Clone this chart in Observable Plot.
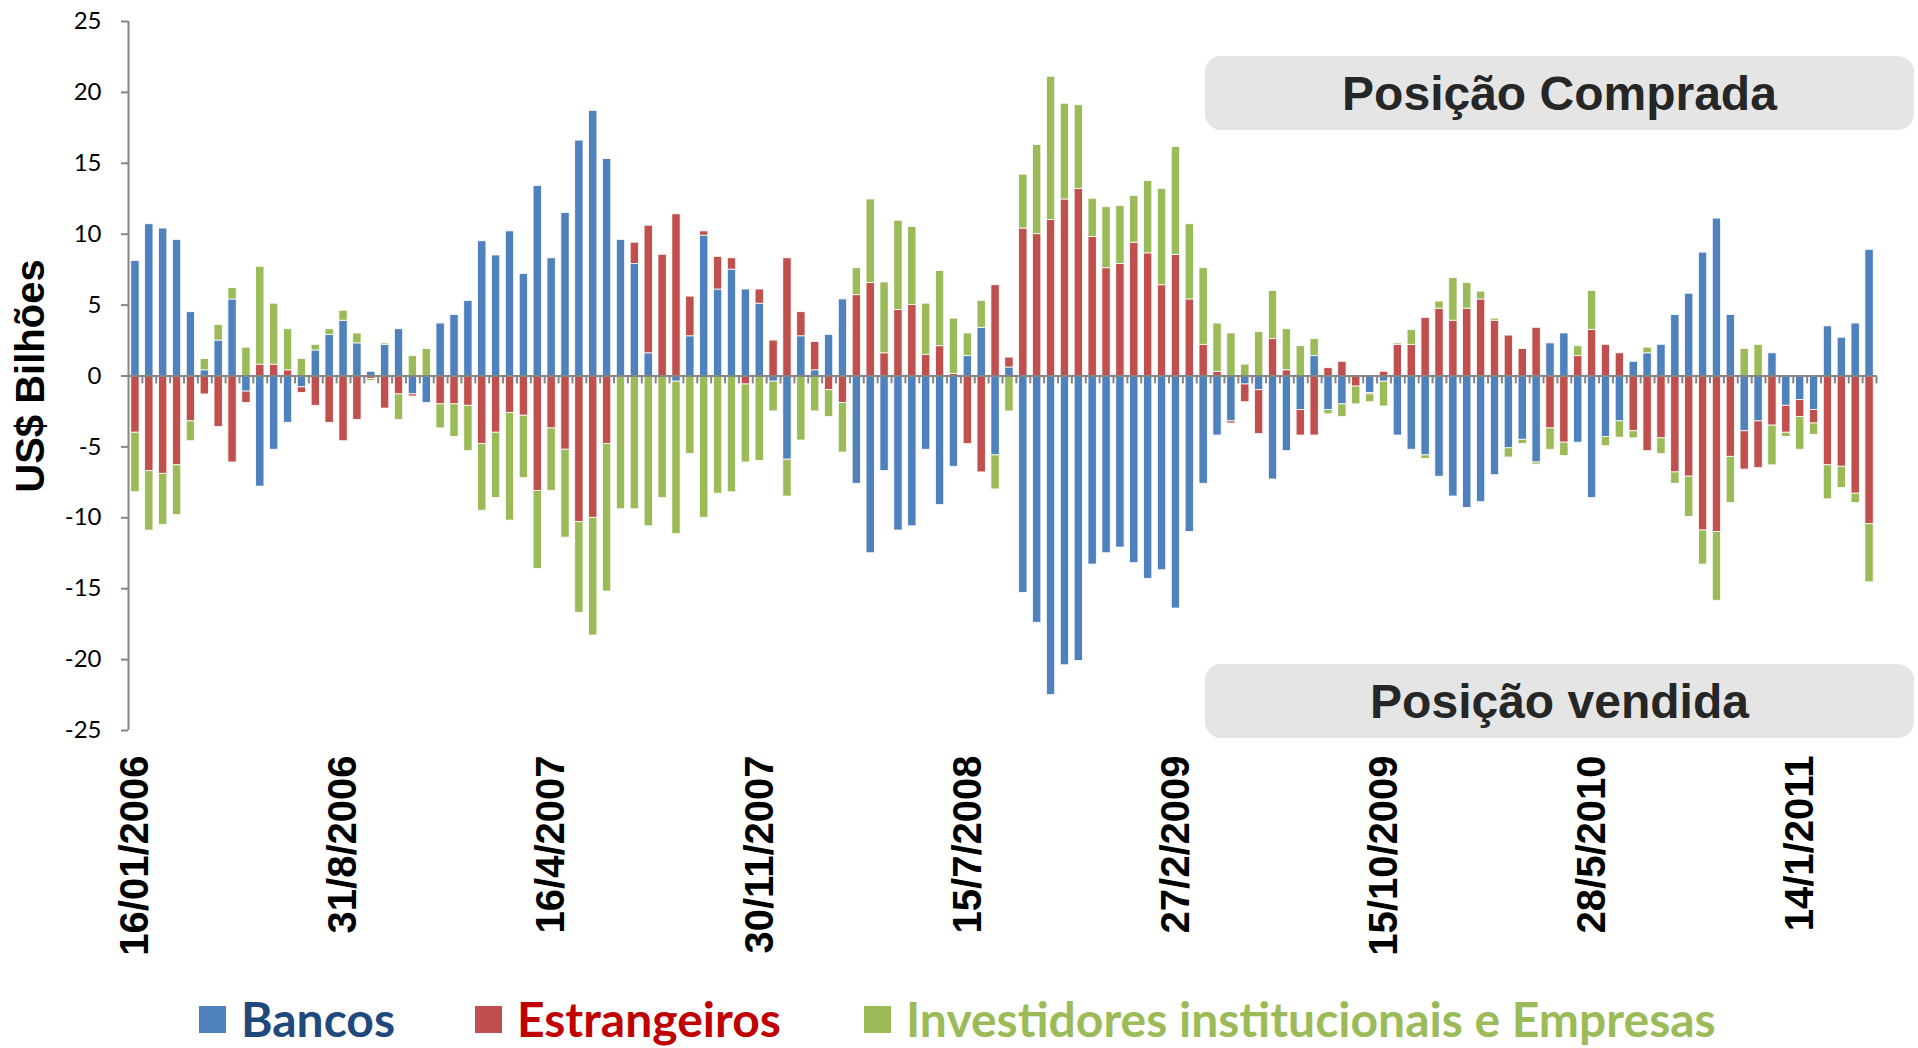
<!DOCTYPE html>
<html>
<head>
<meta charset="utf-8">
<script src="https://cdn.jsdelivr.net/npm/d3@7"></script>
<script src="https://cdn.jsdelivr.net/npm/@observablehq/plot@0.6"></script>
<style>
  body { margin: 0; background: #fff; }
  #wrap { position: relative; width: 1918px; height: 1048px; overflow: hidden; background: #fff; }
  #chart { position: absolute; left: 0; top: 0; }
  .box { position: absolute; left: 1205px; width: 709px; height: 74px; background: #e5e5e5; border-radius: 16px;
         display: flex; align-items: center; justify-content: center;
         font: bold 48px "Liberation Sans", Arial, sans-serif; color: #262626; }
  .leg { position: absolute; top: 994px; height: 50px; display: flex; align-items: center;
         font: bold 48px Lato, "Open Sans", sans-serif; line-height: 1; white-space: nowrap; }
  .leg .sw { width: 27px; height: 27px; margin-right: 15px; flex: none; }
  g[aria-label="x-axis tick label"] text { font-family: "Liberation Sans", Arial, sans-serif; font-weight: bold; fill: #000; }
  g[aria-label="y-axis tick label"] text { fill: #000; }
  g[aria-label="y-axis tick"] path { stroke: #868686; stroke-width: 2; }
</style>
</head>
<body>
<div id="wrap">
  <div id="chart"></div>
  <div class="box" style="top:56px">Posição Comprada</div>
  <div class="box" style="top:664px">Posição vendida</div>
  <div id="legend"></div>
</div>
<script>
// ---- data (US$ bilhões), semi-monthly observations ----
const seriesNames = ["Bancos", "Estrangeiros", "Investidores institucionais e Empresas"];
const seriesColors = ["#4F81BD", "#C0504D", "#9BBB59"];
const legendTextColors = ["#1F497D", "#C00000", "#9BBB59"];

const bancos = [
  8.1, 10.7, 10.4, 9.6, 4.5, 0.4, 2.5, 5.4, -1.1, -7.8,
  -5.2, -3.3, -0.8, 1.8, 2.9, 3.9, 2.3, 0.3, 2.2, 3.3,
  -1.3, -1.9, 3.7, 4.3, 5.3, 9.5, 8.5, 10.2, 7.2, 13.4,
  8.3, 11.5, 16.6, 18.7, 15.3, 9.6, 7.9, 1.6, 0, -0.4,
  2.8, 9.9, 6.1, 7.5, 6.1, 5.1, -0.4, -5.9, 2.8, 0.4,
  2.9, 5.4, -7.6, -12.5, -6.7, -10.9, -10.6, -5.2, -9.1, -6.4,
  1.4, 3.4, -5.6, 0.6, -15.3, -17.4, -22.5, -20.4, -20.1, -13.3,
  -12.5, -12.1, -13.2, -14.3, -13.7, -16.4, -11.0, -7.6, -4.2, -3.2,
  -0.6, -1.0, -7.3, -5.3, -2.4, 1.4, -2.4, -2.0, 0, -1.2,
  -0.4, -4.2, -5.2, -5.6, -7.1, -8.5, -9.3, -8.9, -7.0, -5.1,
  -4.5, -6.1, 2.3, 3.0, -4.7, -8.6, -4.3, -3.2, 1.0, 1.6,
  2.2, 4.3, 5.8, 8.7, 11.1, 4.3, -3.9, -3.2, 1.6, -2.1,
  -1.7, -2.4, 3.5, 2.7, 3.7, 8.9
];
const estrangeiros = [
  -4.0, -6.7, -6.9, -6.3, -3.2, -1.3, -3.6, -6.1, -0.8, 0.8,
  0.8, 0.4, -0.4, -2.1, -3.3, -4.6, -3.1, -0.2, -2.3, -1.3,
  -0.15, 0, -2.0, -2.0, -2.1, -4.8, -4.0, -2.6, -2.8, -8.1,
  -3.7, -5.2, -10.3, -10.0, -4.8, 0, 1.5, 9.0, 8.55, 11.4,
  2.8, 0.3, 2.3, 0.8, -0.6, 1.0, 2.5, 8.3, 1.7, 2.0,
  -1.0, -1.9, 5.7, 6.55, 1.6, 4.65, 5.0, 1.5, 2.1, 0.15,
  -4.8, -6.8, 6.4, 0.7, 10.4, 10.0, 11.0, 12.45, 13.2, 9.8,
  7.6, 7.9, 9.4, 8.65, 6.4, 8.55, 5.4, 2.2, 0.3, -0.15,
  -1.25, -3.1, 2.6, 0.4, -1.8, -4.2, 0.55, 1.0, -0.75, -0.1,
  0.3, 2.2, 2.2, 4.1, 4.75, 3.9, 4.75, 5.4, 3.9, 2.85,
  1.9, 3.4, -3.7, -4.7, 1.4, 3.25, 2.2, 1.6, -3.9, -5.3,
  -4.4, -6.8, -7.1, -10.9, -11.0, -5.7, -2.7, -3.3, -3.5, -1.9,
  -1.2, -0.95, -6.3, -6.4, -8.3, -10.45
];
const investidores = [
  -4.2, -4.2, -3.6, -3.5, -1.4, 0.8, 1.1, 0.8, 2.0, 6.9,
  4.3, 2.9, 1.2, 0.4, 0.4, 0.7, 0.7, -0.15, 0.1, -1.8,
  1.4, 1.9, -1.7, -2.3, -3.2, -4.7, -4.6, -7.6, -4.4, -5.5,
  -4.4, -6.2, -6.4, -8.3, -10.4, -9.4, -9.4, -10.6, -8.6, -10.75,
  -5.5, -10.0, -8.3, -8.2, -5.5, -6.0, -2.1, -2.6, -4.55, -2.5,
  -1.9, -3.5, 1.9, 5.9, 5.0, 6.3, 5.5, 3.6, 5.3, 3.9,
  1.6, 1.9, -2.4, -2.5, 3.8, 6.3, 10.1, 6.75, 5.9, 2.7,
  4.3, 4.1, 3.3, 5.1, 6.8, 7.6, 5.3, 5.4, 3.4, 3.0,
  0.8, 3.1, 3.4, 2.9, 2.1, 1.2, -0.3, -0.9, -1.25, -0.55,
  -1.75, 0.1, 1.05, -0.25, 0.5, 3.0, 1.8, 0.55, 0.15, -0.65,
  -0.3, -0.15, -1.5, -0.95, 0.7, 2.75, -0.65, -1.15, -0.5, 0.4,
  -1.1, -0.8, -2.85, -2.4, -4.85, -3.25, 1.9, 2.2, -2.8, -0.3,
  -2.3, -0.8, -2.4, -1.5, -0.65, -4.1
];
// x tick labels: index of the observation and its label
const xTickIndex = [0, 15, 30, 45, 60, 75, 90, 105, 120];
const xTickLabels = ["16/01/2006", "31/8/2006", "16/4/2007", "30/11/2007", "15/7/2008",
                     "27/2/2009", "15/10/2009", "28/5/2010", "14/1/2011"];
const yTicks = [-25, -20, -15, -10, -5, 0, 5, 10, 15, 20, 25];

// ---- build table ----
const n = bancos.length;
const valuesBySeries = [bancos, estrangeiros, investidores];
const rows = [];
for (let i = 0; i < n; i++) {
  seriesNames.forEach((s, k) => rows.push({i, serie: s, value: valuesBySeries[k][i]}));
}
const labelOf = new Map(xTickIndex.map((d, k) => [d, xTickLabels[k]]));

const W = 1918, H = 975, mL = 128, mR = 42, mT = 21, mB = 245;
const step = (W - mL - mR) / n;
const grey = "#868686";

const chart = Plot.plot({
  width: W, height: H,
  marginLeft: mL, marginRight: mR, marginTop: mT, marginBottom: mB,
  style: {fontFamily: "Lato, 'Open Sans', sans-serif", background: "white", overflow: "visible", color: "#000"},
  x: {type: "band", domain: d3.range(n), paddingInner: 0.4, paddingOuter: 0.2, axis: null, label: null},
  y: {domain: [-25, 25], axis: null, label: null},
  color: {domain: seriesNames, range: seriesColors},
  marks: [
    Plot.barY(rows, Plot.stackY({x: "i", y: "value", fill: "serie", stroke: "white", strokeWidth: 0.8})),
    Plot.ruleY([0], {stroke: grey, strokeWidth: 2}),
    Plot.ruleX(d3.range(n), {x: d => d, dx: step / 2, y1: 0, y2: -0.56, stroke: grey, strokeWidth: 2}),
    Plot.ruleX([0], {x: d => d, dx: -step / 2, y1: -25, y2: 25, stroke: grey, strokeWidth: 2}),
    Plot.axisY({ticks: yTicks, tickFormat: d => String(d), tickSize: 7, tickPadding: 20, fontSize: 24, label: null}),
    Plot.axisX({ticks: xTickIndex, tickFormat: i => labelOf.get(i), tickRotate: -90,
                tickSize: 0, tickPadding: 25, fontSize: 40, label: null}),
    Plot.text(["US$ Bilhões"], {text: d => d, frameAnchor: "left", textAnchor: "middle", rotate: -90, dx: -97,
               fontSize: 40, fontWeight: "bold", fontFamily: "Liberation Sans, Arial, sans-serif", fill: "#000"})
  ]
});
document.getElementById("chart").appendChild(chart);

// ---- legend ----
const legendLeft = [199, 475, 864];
const legend = document.getElementById("legend");
seriesNames.forEach((s, k) => {
  const item = document.createElement("div");
  item.className = "leg";
  item.style.left = legendLeft[k] + "px";
  item.style.color = legendTextColors[k];
  const sw = document.createElement("div");
  sw.className = "sw";
  sw.style.background = seriesColors[k];
  item.appendChild(sw);
  const t = document.createElement("span");
  t.textContent = s;
  item.appendChild(t);
  legend.appendChild(item);
});
</script>
</body>
</html>
